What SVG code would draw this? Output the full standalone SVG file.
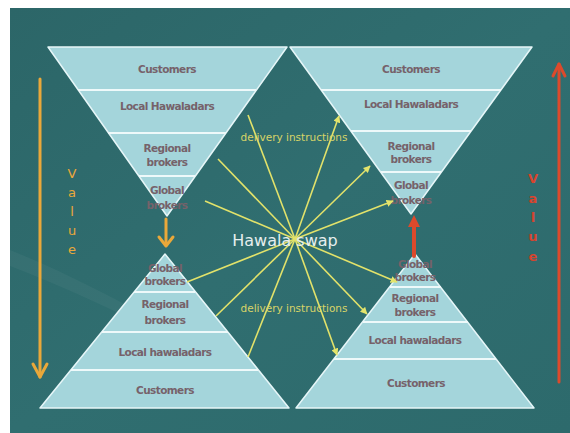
<svg xmlns="http://www.w3.org/2000/svg" width="570" height="433" viewBox="0 0 570 433">
  <defs>
    <linearGradient id="bg" x1="0" y1="0" x2="1" y2="1">
      <stop offset="0" stop-color="#2c6668"/>
      <stop offset="0.5" stop-color="#306e70"/>
      <stop offset="1" stop-color="#2d6a6c"/>
    </linearGradient>
    <marker id="ray-head" viewBox="0 0 10 10" refX="9" refY="5" markerWidth="4.5" markerHeight="4.5" orient="auto" markerUnits="strokeWidth">
      <path d="M0,0 L10,5 L0,10 Z" fill="#e4e46c"/>
    </marker>
    <style>
      .band { fill: #a4d5db; stroke: #e6f6f8; stroke-width: 1.5; stroke-linejoin: round; }
      .sep { stroke: #eef9fa; stroke-width: 2; }
      .lbl { font-family: "DejaVu Sans", Verdana, sans-serif; font-size: 10.5px; font-weight: bold; fill: #76626a; text-anchor: middle; letter-spacing: -0.6px; }
      .ray { stroke: #e2e26a; stroke-width: 1.6; fill: none; }
      .ray-arrow { stroke: #e2e26a; stroke-width: 1.6; fill: none; marker-end: url(#ray-head); }
      .note { font-family: "DejaVu Sans", Verdana, sans-serif; font-size: 10.5px; fill: #d8d468; text-anchor: middle; }
      .val-down { font-family: "DejaVu Sans", Verdana, sans-serif; font-size: 13px; fill: #eaa83a; text-anchor: middle; }
      .val-up { font-family: "DejaVu Sans", Verdana, sans-serif; font-size: 13px; font-weight: bold; fill: #d8442e; text-anchor: middle; }
      .orange { stroke: #eaa83a; stroke-width: 3; fill: none; stroke-linecap: round; stroke-linejoin: round; }
      .red { stroke: #dc4a2c; stroke-width: 3; fill: none; stroke-linecap: round; stroke-linejoin: round; }
    </style>
  </defs>

  <!-- page and slide background -->
  <rect x="0" y="0" width="570" height="433" fill="#ffffff"/>
  <rect x="10" y="8" width="560" height="425" fill="url(#bg)"/>
  <path d="M10,250 C60,270 120,300 170,330 L170,340 C120,312 60,285 10,266 Z" fill="#ffffff" opacity="0.04"/>

  <!-- top-left inverted pyramid -->
  <g id="pyramid-top-left">
    <polygon class="band" points="48,47 287,47 167,216"/>
    <line class="sep" x1="78" y1="90" x2="256" y2="90"/>
    <line class="sep" x1="108" y1="133" x2="226" y2="133"/>
    <line class="sep" x1="139" y1="176" x2="195" y2="176"/>
    <text class="lbl" x="167" y="73">Customers</text>
    <text class="lbl" x="167" y="110">Local Hawaladars</text>
    <text class="lbl" x="167" y="152">Regional</text>
    <text class="lbl" x="167" y="166">brokers</text>
    <text class="lbl" x="167" y="194">Global</text>
    <text class="lbl" x="167" y="209">brokers</text>
  </g>

  <!-- top-right inverted pyramid -->
  <g id="pyramid-top-right">
    <polygon class="band" points="290,47 532,47 411,214"/>
    <line class="sep" x1="321" y1="90" x2="501" y2="90"/>
    <line class="sep" x1="351" y1="131" x2="471" y2="131"/>
    <line class="sep" x1="381" y1="172" x2="441" y2="172"/>
    <text class="lbl" x="411" y="73">Customers</text>
    <text class="lbl" x="411" y="108">Local Hawaladars</text>
    <text class="lbl" x="411" y="150">Regional</text>
    <text class="lbl" x="411" y="163">brokers</text>
    <text class="lbl" x="411" y="189">Global</text>
    <text class="lbl" x="411" y="204">brokers</text>
  </g>

  <!-- bottom-left pyramid -->
  <g id="pyramid-bottom-left">
    <polygon class="band" points="165,254 289,408 40,408"/>
    <line class="sep" x1="134" y1="292" x2="195" y2="292"/>
    <line class="sep" x1="102" y1="332" x2="228" y2="332"/>
    <line class="sep" x1="71" y1="370" x2="258" y2="370"/>
    <text class="lbl" x="165" y="272">Global</text>
    <text class="lbl" x="165" y="285">brokers</text>
    <text class="lbl" x="165" y="308">Regional</text>
    <text class="lbl" x="165" y="324">brokers</text>
    <text class="lbl" x="165" y="356">Local hawaladars</text>
    <text class="lbl" x="165" y="394">Customers</text>
  </g>

  <!-- bottom-right pyramid -->
  <g id="pyramid-bottom-right">
    <polygon class="band" points="415,254 534,408 296,408"/>
    <line class="sep" x1="390" y1="287" x2="441" y2="287"/>
    <line class="sep" x1="363" y1="322" x2="468" y2="322"/>
    <line class="sep" x1="334" y1="359" x2="496" y2="359"/>
    <text class="lbl" x="415" y="268">Global</text>
    <text class="lbl" x="415" y="281">brokers</text>
    <text class="lbl" x="415" y="302">Regional</text>
    <text class="lbl" x="415" y="316">brokers</text>
    <text class="lbl" x="415" y="344">Local hawaladars</text>
    <text class="lbl" x="416" y="387">Customers</text>
  </g>

  <!-- delivery instruction rays and value arrows -->
  <g id="connectors">
    <line class="ray" x1="295" y1="239" x2="248" y2="115"/>
    <line class="ray" x1="295" y1="239" x2="218" y2="159"/>
    <line class="ray" x1="295" y1="239" x2="205" y2="201"/>
    <line class="ray" x1="295" y1="239" x2="187" y2="282"/>
    <line class="ray" x1="295" y1="239" x2="216" y2="316"/>
    <line class="ray" x1="295" y1="239" x2="248" y2="357"/>
    <line class="ray-arrow" x1="295" y1="239" x2="339" y2="116"/>
    <line class="ray-arrow" x1="295" y1="239" x2="370" y2="166"/>
    <line class="ray-arrow" x1="295" y1="239" x2="393" y2="201"/>
    <line class="ray-arrow" x1="295" y1="239" x2="397" y2="282"/>
    <line class="ray-arrow" x1="295" y1="239" x2="367" y2="314"/>
    <line class="ray-arrow" x1="295" y1="239" x2="337" y2="355"/>

    <!-- value falls on the left -->
    <line class="orange" x1="40" y1="79" x2="40" y2="377"/>
    <polyline class="orange" points="33,364 40,377 47,364"/>
    <line class="orange" x1="166" y1="219" x2="166" y2="245"/>
    <polyline class="orange" points="159,237 166,246 173,237"/>

    <!-- value rises on the right -->
    <line class="red" x1="559" y1="64" x2="559" y2="382"/>
    <polyline class="red" points="553,76 559,64 565,76"/>
    <line class="red" x1="414" y1="256" x2="414" y2="220" style="stroke-width:4"/>
    <polygon points="414,215 408,227 420,227" fill="#dc4a2c"/>
  </g>

  <!-- captions -->
  <g id="captions">
    <text class="note" x="294" y="141">delivery instructions</text>
    <text class="note" x="294" y="312">delivery instructions</text>
    <text x="285" y="246" font-family="DejaVu Sans, Verdana, sans-serif" font-size="16" fill="#e6eeee" text-anchor="middle">Hawala swap</text>
    <text class="val-down" x="72" y="178">V</text>
    <text class="val-down" x="72" y="197">a</text>
    <text class="val-down" x="72" y="216">l</text>
    <text class="val-down" x="72" y="235">u</text>
    <text class="val-down" x="72" y="254">e</text>
    <text class="val-up" x="533" y="183">V</text>
    <text class="val-up" x="533" y="203">a</text>
    <text class="val-up" x="533" y="222">l</text>
    <text class="val-up" x="533" y="241">u</text>
    <text class="val-up" x="533" y="261">e</text>
  </g>
</svg>
